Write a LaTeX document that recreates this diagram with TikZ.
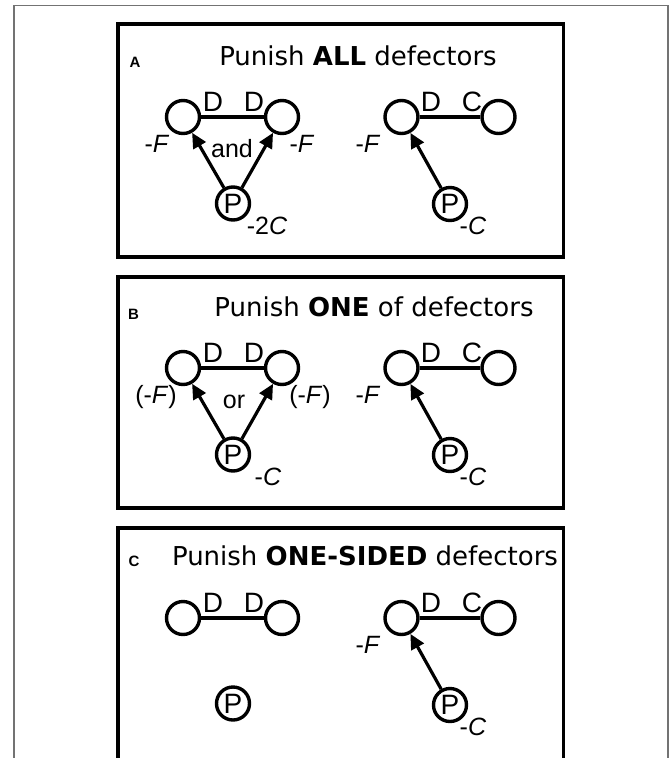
\documentclass[tikz,border=0pt]{standalone}
\usepackage{fontspec}
\setmainfont{Liberation Sans}
\newfontfamily\titlefont{DejaVu Sans}
\usetikzlibrary{arrows.meta}
\begin{document}
\begin{tikzpicture}[x=1pt,y=-1pt,
  agent/.style={circle,draw,line width=3.4pt,minimum size=33pt,inner sep=0pt,font=\fontsize{28}{28}\selectfont},
  link/.style={line width=3.2pt},
  punarrow/.style={line width=3.2pt,-{Triangle[length=15pt,width=14pt]}},
  lab/.style={inner sep=0pt,font=\fontsize{28}{28}\selectfont},
  val/.style={inner sep=0pt,font=\fontsize{25}{25}\selectfont},
  ttl/.style={inner sep=0pt,anchor=base,font=\titlefont\fontsize{26}{26}\selectfont},
  plet/.style={inner sep=0pt,font=\bfseries\fontsize{15}{15}\selectfont},
  panel/.style={draw,line width=3.8pt},
  frame/.style={draw=black!55,line width=1.3pt}]
\useasboundingbox (0,0) rectangle (669,758);
\clip (0,0) rectangle (669,758);
\draw[frame] (14,5.5) rectangle (668,775);

% ---------- Panel A ----------
\draw[panel] (118,24) rectangle (563.5,257);
\node[plet] (aLet) at (135,62.5) {A};
\node[ttl] (aTtl) at (358,65) {Punish \textbf{ALL} defectors};
\node[agent] (a1l) at (183,117) {};
\node[agent] (a1r) at (282,117) {};
\node[agent] (a1p) at (233,203.5) {P};
\draw[link] (a1l) -- (a1r);
\draw[punarrow] (a1p) -- (a1l);
\draw[punarrow] (a1p) -- (a1r);
\node[lab] (a1d1) at (213,102) {D};
\node[lab] (a1d2) at (254,102) {D};
\node[val] (a1fl) at (157,143.5) {-\textit{F}};
\node[val] (a1and) at (232,149) {and};
\node[val] (a1fr) at (302,143.5) {-\textit{F}};
\node[val] (a1c) at (267,226) {-2\textit{C}};
\node[agent] (a2l) at (401.5,117) {};
\node[agent] (a2r) at (498.5,117) {};
\node[agent] (a2p) at (450,204) {P};
\draw[link] (a2l) -- (a2r);
\draw[punarrow] (a2p) -- (a2l);
\node[lab] (a2d) at (431,102) {D};
\node[lab] (a2cc) at (472,102) {C};
\node[val] (a2f) at (368,143.5) {-\textit{F}};
\node[val] (a2c) at (473,226) {-\textit{C}};

% ---------- Panel B ----------
\draw[panel] (118,277) rectangle (563.5,508);
\node[plet] (bLet) at (133.5,314.5) {B};
\node[ttl] (bTtl) at (374,316) {Punish \textbf{ONE} of defectors};
\node[agent] (b1l) at (183,368) {};
\node[agent] (b1r) at (282,368) {};
\node[agent] (b1p) at (233,454.5) {P};
\draw[link] (b1l) -- (b1r);
\draw[punarrow] (b1p) -- (b1l);
\draw[punarrow] (b1p) -- (b1r);
\node[lab] (b1d1) at (213,353) {D};
\node[lab] (b1d2) at (254,353) {D};
\node[val] (b1fl) at (156,397) {(-\textit{F})};
\node[val] (b1or) at (234,401.5) {or};
\node[val] (b1fr) at (310,397) {(-\textit{F})};
\node[val] (b1c) at (268,477) {-\textit{C}};
\node[agent] (b2l) at (401.5,368) {};
\node[agent] (b2r) at (498.5,368) {};
\node[agent] (b2p) at (450,455) {P};
\draw[link] (b2l) -- (b2r);
\draw[punarrow] (b2p) -- (b2l);
\node[lab] (b2d) at (431,353) {D};
\node[lab] (b2cc) at (472,353) {C};
\node[val] (b2f) at (368,394.5) {-\textit{F}};
\node[val] (b2c) at (473,477) {-\textit{C}};

% ---------- Panel C ----------
\draw[panel] (118,528) rectangle (563.5,762);
\node[plet] (cLet) at (134,561) {C};
\node[ttl] (cTtl) at (365,565) {Punish \textbf{ONE-SIDED} defectors};
\node[agent] (c1l) at (183,618) {};
\node[agent] (c1r) at (282,618) {};
\node[agent] (c1p) at (233,703.5) {P};
\draw[link] (c1l) -- (c1r);
\node[lab] (c1d1) at (213,603) {D};
\node[lab] (c1d2) at (254,603) {D};
\node[agent] (c2l) at (401.5,618) {};
\node[agent] (c2r) at (498.5,618) {};
\node[agent] (c2p) at (450,705) {P};
\draw[link] (c2l) -- (c2r);
\draw[punarrow] (c2p) -- (c2l);
\node[lab] (c2d) at (431,603) {D};
\node[lab] (c2cc) at (472,603) {C};
\node[val] (c2f) at (368,644.5) {-\textit{F}};
\node[val] (c2c) at (473,727) {-\textit{C}};
\end{tikzpicture}
\end{document}
